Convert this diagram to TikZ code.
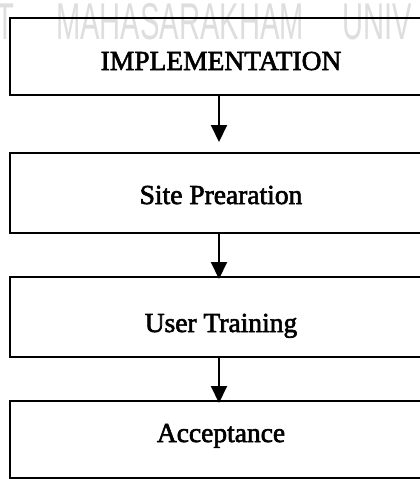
\documentclass[tikz,border=0pt]{standalone}
\usepackage{fontspec}
\usetikzlibrary{arrows.meta}
\newfontfamily\boxfont[FakeBold=2.2]{Liberation Serif}
\newfontfamily\markfont{Liberation Sans}
\begin{document}
\begin{tikzpicture}[x=1pt,y=-1pt,
  stagebox/.style={draw=black,line width=2pt,inner sep=0pt,minimum width=422pt},
  stagetext/.style={anchor=base,inner sep=0pt,font=\boxfont\fontsize{27.5}{33}\selectfont},
  markword/.style={anchor=base west,inner sep=0pt,xscale=0.564,text=black!13,
    font=\markfont\fontsize{51.7}{60}\selectfont},
  flow/.style={line width=2pt,-{Triangle[length=17pt,width=16pt]}}]
  \useasboundingbox (0,0) rectangle (420,479);
  \clip (0,0) rectangle (420,479);
  \fill[white] (0,0) rectangle (420,479);

  % faint background lettering
  \node[markword,anchor=base east] (markT) at (14,39) {T};
  \node[markword] (markM) at (56,39) {MAHASARAKHAM};
  \node[markword] (markU) at (342,39) {UNIV};

  % stages
  \node[stagebox,minimum height=77pt] (impl) at (221,56.5) {};
  \node[stagebox,minimum height=80pt] (site) at (221,193) {};
  \node[stagebox,minimum height=80pt] (user) at (221,317) {};
  \node[stagebox,minimum height=77pt] (acc)  at (221,439.5) {};

  \node[stagetext] (implT) at (221,70)  {IMPLEMENTATION};
  \node[stagetext] (siteT) at (221,204) {Site Prearation};
  \node[stagetext] (userT) at (221,332) {User Training};
  \node[stagetext] (accT)  at (221,442) {Acceptance};

  % connectors
  \draw[flow,shorten >=10pt] ([xshift=-2pt]impl.south) -- ([xshift=-2pt]site.north);
  \draw[flow,shorten >=-3pt] ([xshift=-2pt]site.south) -- ([xshift=-2pt]user.north);
  \draw[flow,shorten >=-3pt] ([xshift=-2pt]user.south) -- ([xshift=-2pt]acc.north);
\end{tikzpicture}
\end{document}
